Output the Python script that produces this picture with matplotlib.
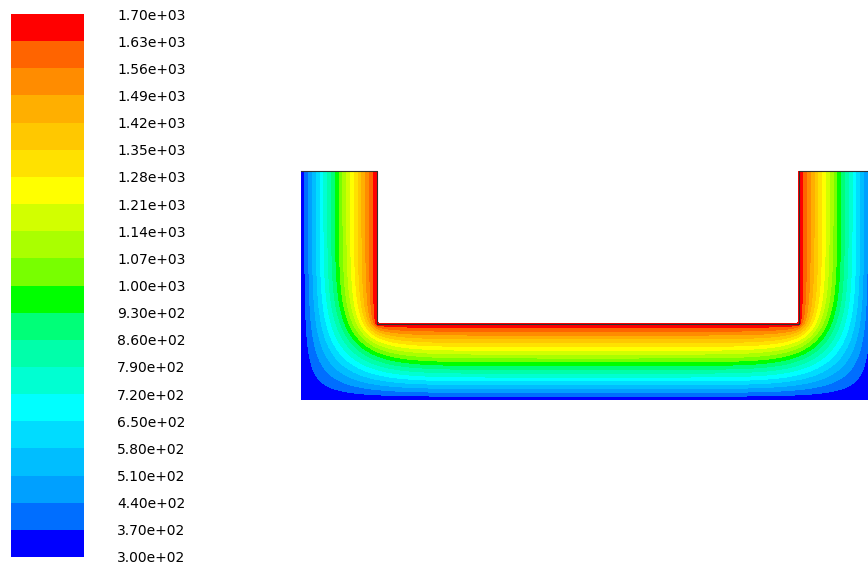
import numpy as np
import matplotlib
matplotlib.use('Agg')
import matplotlib.pyplot as plt

# U-shaped section (metres): outer block with a rectangular cut from the top
WIDTH = 0.755
HEIGHT = 0.30
CUT_X0 = 0.10
CUT_X1 = 0.655
CUT_Y0 = 0.10

T_INNER = 1700.0   # hot inner faces of the cut
T_OUTER = 300.0    # cold outer faces (left, right, bottom)

LEVELS = np.arange(300, 1701, 70)
BAND_COLORS = ['#0000ff', '#006eff', '#00a0ff', '#00beff', '#00dcff',
               '#00ffff', '#00ffd2', '#00ffaa', '#00ff78', '#00ff00',
               '#78ff00', '#aaff00', '#d2ff00', '#ffff00', '#ffe100',
               '#ffc800', '#ffaf00', '#ff8c00', '#ff6400', '#ff0000']

H = 0.0025
nx = int(round(WIDTH / H)) + 1
ny = int(round(HEIGHT / H)) + 1
x = np.linspace(0, WIDTH, nx)
y = np.linspace(0, HEIGHT, ny)
X, Y = np.meshgrid(x, y)

eps = 1e-9
in_cut = (X > CUT_X0 - eps) & (X < CUT_X1 + eps) & (Y > CUT_Y0 - eps)
inside_cut = (X > CUT_X0 + eps) & (X < CUT_X1 - eps) & (Y > CUT_Y0 + eps)
outer = (X < eps) | (X > WIDTH - eps) | (Y < eps)

fixed = in_cut | outer
fixed_val = np.where(in_cut, T_INNER, T_OUTER)

# steady conduction: Jacobi relaxation, insulated top faces of the legs
T = np.full((ny, nx), 1000.0)
T[fixed] = fixed_val[fixed]
for it in range(10000):
    up = np.vstack([T[1:], T[-2:-1]])
    down = np.vstack([T[:1], T[:-1]])
    left = np.hstack([T[:, :1], T[:, :-1]])
    right = np.hstack([T[:, 1:], T[:, -1:]])
    T = np.where(fixed, fixed_val, 0.25 * (up + down + left + right))

Tm = np.ma.masked_where(inside_cut, T)

fig = plt.figure(figsize=(8.68, 5.67), dpi=100)
fig.patch.set_facecolor('white')

ax = fig.add_axes([301 / 868, 167 / 567, 574 / 868, 229 / 567])
cf = ax.contourf(X, Y, Tm, levels=LEVELS, colors=BAND_COLORS)
ax.set_xlim(0, WIDTH)
ax.set_ylim(0, HEIGHT)
ax.axis('off')

# wall outline along the hot faces and the open top of each leg
ax.plot([0, CUT_X0, CUT_X0, CUT_X1, CUT_X1, WIDTH],
        [HEIGHT, HEIGHT, CUT_Y0, CUT_Y0, HEIGHT, HEIGHT],
        color='#303030', lw=0.8, clip_on=False)

cax = fig.add_axes([11 / 868, 10 / 567, 73 / 868, 543 / 567])
cb = fig.colorbar(cf, cax=cax, ticks=LEVELS, format='%.2e')
cb.outline.set_visible(False)
cax.tick_params(length=0, pad=24, labelsize=10)
for lab in cax.get_yticklabels():
    lab.set_fontfamily('DejaVu Sans')

fig.savefig('out.png', dpi=100, facecolor='white')
